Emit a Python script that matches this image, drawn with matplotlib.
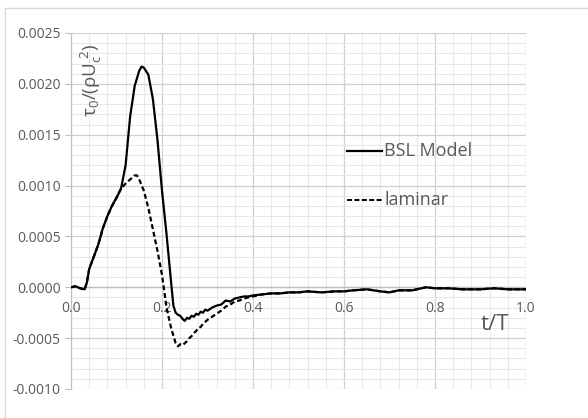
import matplotlib
matplotlib.use("Agg")
import matplotlib.pyplot as plt
from matplotlib.ticker import MultipleLocator, FixedLocator
from matplotlib.lines import Line2D

t_bsl = [0.00, 0.01, 0.02, 0.03, 0.035, 0.04, 0.05, 0.06, 0.07, 0.08, 0.09, 0.10,
         0.11, 0.12, 0.13, 0.14, 0.15, 0.155, 0.16, 0.17, 0.18, 0.19, 0.20, 0.21,
         0.22, 0.225, 0.23, 0.235, 0.24, 0.245, 0.25, 0.255, 0.26, 0.265, 0.27, 0.275,
         0.28, 0.285, 0.29, 0.295, 0.30, 0.31, 0.32, 0.33, 0.34, 0.35, 0.36, 0.37,
         0.38, 0.39, 0.40, 0.42, 0.44, 0.46, 0.48, 0.50, 0.52, 0.55, 0.58, 0.60,
         0.62, 0.65, 0.68, 0.70, 0.72, 0.75, 0.78, 0.80, 0.83, 0.86, 0.90, 0.93,
         0.96, 1.00]
bsl = [0.00000, 0.00001, -0.00001, -0.00002, 0.00005, 0.00018, 0.00030, 0.00042,
       0.00058, 0.00070, 0.00080, 0.00088, 0.00097, 0.00120, 0.00168, 0.00198,
       0.00213, 0.00217, 0.00216, 0.00209, 0.00185, 0.00145, 0.00095, 0.00052,
       0.00005, -0.00018, -0.00025, -0.00027, -0.00028, -0.00031, -0.00033, -0.00030,
       -0.00031, -0.00028, -0.00029, -0.00026, -0.00027, -0.00024, -0.00025, -0.00022,
       -0.00023, -0.00020, -0.00018, -0.00017, -0.00013, -0.00014, -0.00011, -0.00010,
       -0.00009, -0.00009, -0.00008, -0.00007, -0.00006, -0.00006, -0.00005, -0.00005,
       -0.00004, -0.00005, -0.00004, -0.00004, -0.00003, -0.00002, -0.00004, -0.00005,
       -0.00003, -0.00003, 0.00000, -0.00001, -0.00001, -0.00002, -0.00002, -0.00001,
       -0.00002, -0.00002]

t_lam = [0.00, 0.01, 0.02, 0.03, 0.035, 0.04, 0.05, 0.06, 0.07, 0.08, 0.09, 0.10,
         0.11, 0.12, 0.13, 0.14, 0.145, 0.15, 0.16, 0.17, 0.18, 0.19, 0.20, 0.21,
         0.22, 0.23, 0.235, 0.24, 0.245, 0.25, 0.255, 0.26, 0.265, 0.27, 0.275, 0.28,
         0.285, 0.29, 0.295, 0.30, 0.31, 0.32, 0.33, 0.34, 0.35, 0.36, 0.37, 0.38,
         0.39, 0.40, 0.42, 0.44, 0.46, 0.48, 0.50, 0.52, 0.55, 0.58, 0.60, 0.62,
         0.65, 0.68, 0.70, 0.72, 0.75, 0.78, 0.80, 0.83, 0.86, 0.90, 0.93, 0.96, 1.00]
lam = [0.00000, 0.00001, -0.00001, -0.00002, 0.00005, 0.00018, 0.00030, 0.00042,
       0.00058, 0.00070, 0.00080, 0.00088, 0.00097, 0.00102, 0.00106, 0.00110,
       0.00110, 0.00106, 0.00095, 0.00078, 0.00057, 0.00036, 0.00012, -0.00020,
       -0.00040, -0.00055, -0.00058, -0.00056, -0.00057, -0.00055, -0.00053, -0.00050,
       -0.00048, -0.00045, -0.00043, -0.00040, -0.00039, -0.00036, -0.00034, -0.00032,
       -0.00029, -0.00026, -0.00023, -0.00019, -0.00017, -0.00014, -0.00013, -0.00011,
       -0.00010, -0.00009, -0.00007, -0.00006, -0.00006, -0.00005, -0.00005, -0.00004,
       -0.00005, -0.00004, -0.00004, -0.00003, -0.00002, -0.00004, -0.00005, -0.00003,
       -0.00003, 0.00000, -0.00001, -0.00001, -0.00002, -0.00002, -0.00001, -0.00002,
       -0.00002]

x_ticks = [0.0, 0.2, 0.4, 0.6, 0.8, 1.0]
x_ticklabels = ["0.0", "0.2", "0.4", "0.6", "0.8", "1.0"]
y_ticks = [-0.0010, -0.0005, 0.0000, 0.0005, 0.0010, 0.0015, 0.0020, 0.0025]
y_ticklabels = ["-0.0010", "-0.0005", "0.0000", "0.0005", "0.0010", "0.0015", "0.0020", "0.0025"]

FONT = "Open Sans"
TXT = "#595959"

fig = plt.figure(figsize=(5.88, 4.18), dpi=100)
ax = fig.add_axes([71/588, 1-389/418, (526-71)/588, (389-33)/418])

ax.set_xlim(0, 1.0)
ax.set_ylim(-0.0010, 0.0025)
ax.xaxis.set_major_locator(FixedLocator(x_ticks))
ax.xaxis.set_minor_locator(MultipleLocator(0.04))
ax.yaxis.set_major_locator(FixedLocator(y_ticks))
ax.yaxis.set_minor_locator(MultipleLocator(0.0001))
ax.grid(which="major", color="#d0d0d0", lw=0.9)
ax.grid(which="minor", color="#e8e8e8", lw=0.7)
ax.set_axisbelow(True)
for s in ["top", "right", "bottom"]:
    ax.spines[s].set_visible(False)
ax.spines["left"].set_color("#bfbfbf")
ax.axhline(0, color="#bfbfbf", lw=1.0, zorder=1)

ax.set_xticklabels([])
ax.tick_params(axis="x", which="both", length=0)
ax.tick_params(axis="y", which="major", length=4.5, color="#bfbfbf", pad=3,
               labelsize=10, labelcolor=TXT)
ax.tick_params(axis="y", which="minor", length=0)
ax.set_yticklabels(y_ticklabels, fontfamily=FONT)

for xv, lab in zip(x_ticks, x_ticklabels):
    ax.text(xv, -0.00013, lab, ha="center", va="top", fontsize=10,
            color=TXT, fontfamily=FONT)

ax.plot(t_bsl, bsl, color="black", lw=1.6, solid_joinstyle="round", zorder=3)
ax.plot(t_lam, lam, color="black", lw=1.6, ls=(0, (2.2, 1.3)), zorder=3)

ax.text(0.046, 0.00204, r"$\mathregular{\tau_0/(\rho U_c^{\ 2})}$", rotation=90, ha="center",
        va="center", fontsize=13.5, color=TXT, fontfamily=FONT)
ax.text(0.932, -0.00037, "t/T", ha="center", va="center", fontsize=16,
        color=TXT, fontfamily=FONT)

# legend entries
ax.add_line(Line2D([0.607, 0.684], [0.00134, 0.00134], color="black", lw=1.6))
ax.text(0.688, 0.00134, "BSL Model", va="center", ha="left", fontsize=13,
        color=TXT, fontfamily=FONT)
ax.add_line(Line2D([0.607, 0.684], [0.00086, 0.00086], color="black", lw=1.4,
                   ls=(0, (2.6, 1.2))))
ax.text(0.688, 0.00086, "laminar", va="center", ha="left", fontsize=13,
        color=TXT, fontfamily=FONT)

# chart area border (left & top visible)
fig.add_artist(Line2D([5/588, 5/588], [0, 1-8/418], transform=fig.transFigure,
                      color="#d9d9d9", lw=1))
fig.add_artist(Line2D([5/588, 1], [1-8/418, 1-8/418], transform=fig.transFigure,
                      color="#d9d9d9", lw=1))

fig.savefig("out.png", dpi=100)
